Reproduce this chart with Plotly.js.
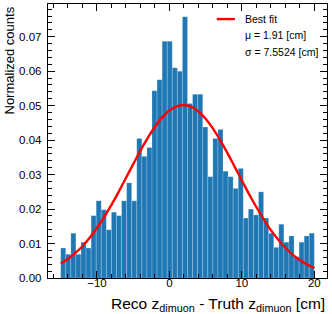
<!DOCTYPE html>
<html>
<head>
<meta charset="utf-8">
<script src="https://cdn.plot.ly/plotly-3.0.1.min.js"></script>
<style>html,body{margin:0;padding:0;background:#fff;}#chart{width:332px;height:314px;}</style>
</head>
<body>
<div id="chart"></div>
<script>
// Histogram: 50 bins from -15 to 20 cm (bin width 0.7)
const binStart = -15;
const binWidth = 0.7;
const counts = [
  0.0087, 0.0069, 0.0130, 0.0069, 0.0104, 0.0087, 0.0181, 0.0224, 0.0198, 0.0140,
  0.0191, 0.0181, 0.0224, 0.0276, 0.0224, 0.0405, 0.0353, 0.0379, 0.0543, 0.0575,
  0.0687, 0.0687, 0.0610, 0.0600, 0.0758, 0.0506, 0.0533, 0.0533, 0.0438, 0.0294,
  0.0405, 0.0431, 0.0310, 0.0294, 0.0260, 0.0318, 0.0174, 0.0200, 0.0183, 0.0250,
  0.0174, 0.0130, 0.0089, 0.0156, 0.0104, 0.0122, 0.0062, 0.0104, 0.0122, 0.0130
];
// Best-fit curve
const fitX = [-15,-14,-13,-12,-11,-10,-9,-8,-7,-6,-5,-4,-3,-2,-1,0,1,2,3,4,5,6,7,8,9,10,11,12,13,14,15,16,17,18,19,20];
const fitY = [0.0042,0.0055,0.0072,0.0092,0.0117,0.0145,0.0177,0.0212,0.0250,0.0290,0.0330,0.0370,0.0406,0.0439,0.0466,0.0486,0.0498,0.0502,0.0497,0.0483,0.0462,0.0434,0.0400,0.0363,0.0323,0.0283,0.0243,0.0206,0.0171,0.0139,0.0112,0.0088,0.0068,0.0052,0.0039,0.0029];
const fitLabel = "Best fit";
const muText = "μ = 1.91 [cm]";
const sigmaText = "σ = 7.5524 [cm]";
const xTickVals = [-10, 0, 10, 20];

const centers = counts.map((_, i) => binStart + binWidth * (i + 0.5));
const FONT = "Liberation Sans, Arial, Helvetica, sans-serif";

const traces = [
  {
    type: "bar", x: centers, y: counts, width: binWidth,
    marker: {color: "#1f77b4", line: {color: "rgba(255,255,255,0.35)", width: 0.6}},
    showlegend: false, hoverinfo: "skip"
  },
  {
    type: "scatter", mode: "lines", x: fitX, y: fitY, name: fitLabel,
    line: {color: "#ff0000", width: 2.4, shape: "spline"},
    showlegend: false, hoverinfo: "skip"
  }
];

const axisCommon = {
  showgrid: false, zeroline: false, showline: true, linecolor: "#000", linewidth: 1.2,
  mirror: "allticks", ticks: "inside", ticklen: 7, tickwidth: 1, tickcolor: "#000",
  tickfont: {family: FONT, size: 11.5, color: "#000"}
};

const layout = {
  width: 332, height: 314,
  margin: {l: 48, r: 5, t: 4, b: 36},
  paper_bgcolor: "#fff", plot_bgcolor: "#fff",
  bargap: 0,
  xaxis: Object.assign({}, axisCommon, {
    range: [-16.75, 21.75], tickvals: xTickVals, ticklabelstandoff: -6,
    minor: {dtick: 2, tick0: 0, ticks: "inside", ticklen: 4, tickcolor: "#000", tickwidth: 1}
  }),
  yaxis: Object.assign({}, axisCommon, {
    range: [0, 0.0795], dtick: 0.01, tick0: 0, tickformat: ".2f", ticklabelstandoff: 3,
    minor: {dtick: 0.002, tick0: 0, ticks: "inside", ticklen: 4, tickcolor: "#000", tickwidth: 1}
  }),
  shapes: [
    {type: "line", xref: "paper", yref: "paper", x0: 0.605, x1: 0.670, y0: 0.945, y1: 0.945,
     line: {color: "#ff0000", width: 2.4}}
  ],
  annotations: [
    {xref: "paper", yref: "paper", x: 0.699, y: 0.945, xanchor: "left", yanchor: "middle",
     text: fitLabel, showarrow: false, font: {family: FONT, size: 10.5, color: "#000"}},
    {xref: "paper", yref: "paper", x: 0.699, y: 0.887, xanchor: "left", yanchor: "middle",
     text: muText, showarrow: false, font: {family: FONT, size: 10.5, color: "#000"}},
    {xref: "paper", yref: "paper", x: 0.699, y: 0.826, xanchor: "left", yanchor: "middle",
     text: sigmaText, showarrow: false, font: {family: FONT, size: 10.5, color: "#000"}},
    {xref: "paper", yref: "paper", x: 1.0, y: -0.056, xanchor: "right", yanchor: "top",
     text: "Reco z<sub>dimuon</sub> - Truth z<sub>dimuon</sub> [cm]", showarrow: false,
     font: {family: FONT, size: 15.5, color: "#000"}},
    {xref: "paper", yref: "paper", x: -0.138, y: 1.0, xanchor: "center", yanchor: "top",
     text: "Normalized counts", textangle: -90, showarrow: false,
     font: {family: FONT, size: 13, color: "#000"}}
  ]
};

Plotly.newPlot("chart", traces, layout, {displayModeBar: false, staticPlot: true});
</script>
</body>
</html>
